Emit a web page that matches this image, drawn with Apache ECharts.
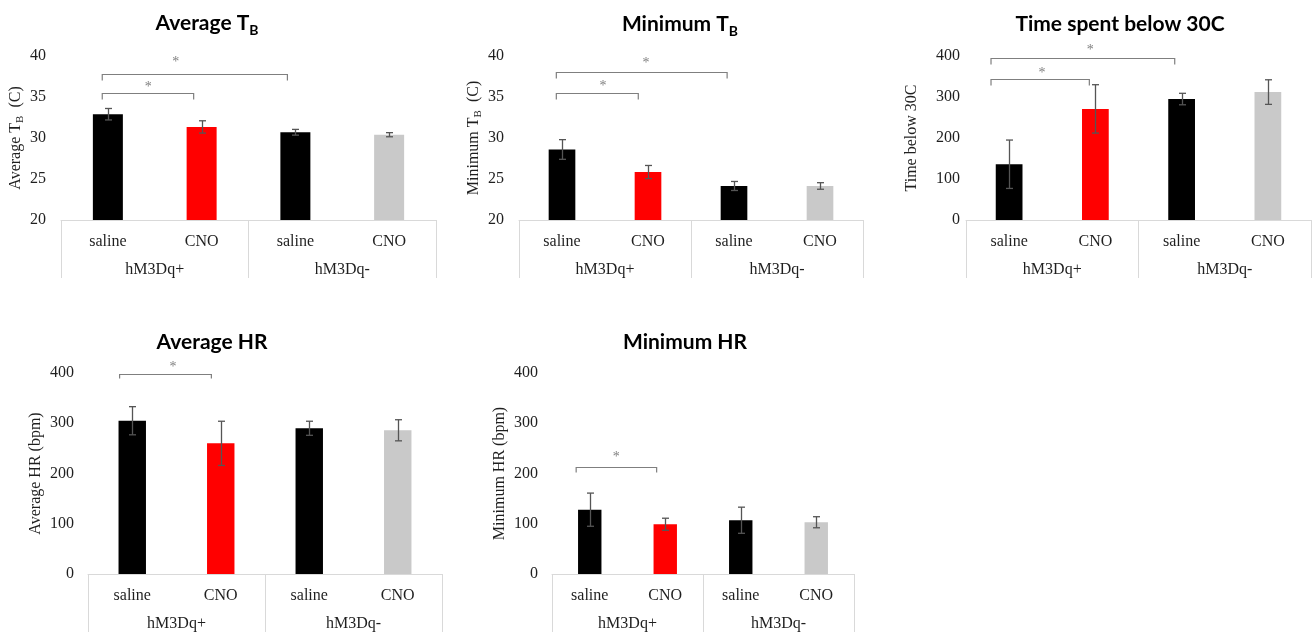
<!DOCTYPE html>
<html>
<head>
<meta charset="utf-8">
<script src="https://cdn.jsdelivr.net/npm/echarts@6/dist/echarts.min.js"></script>
<style>
html,body{margin:0;padding:0;background:#fff;}
#c{width:1312px;height:632px;}
</style>
</head>
<body>
<div id="c"></div>
<script>
// ---- data ----
const categories = ['saline', 'CNO', 'saline', 'CNO'];
const groups = ['hM3Dq+', 'hM3Dq-'];

const avgTbMean = [32.9, 31.35, 30.7, 30.4];
const avgTbErr  = [0.7, 0.75, 0.35, 0.25];
const minTbMean = [28.6, 25.85, 24.15, 24.15];
const minTbErr  = [1.2, 0.8, 0.55, 0.4];
const timeMean  = [136, 271, 295, 312];
const timeErr   = [59, 59, 14, 30];
const avgHrMean = [305, 260, 290, 286];
const avgHrErr  = [28, 44, 14, 21];
const minHrMean = [128, 99, 107, 103];
const minHrErr  = [33, 12, 26, 11];

// significance brackets: [xStart, xEnd, yLine, xStar, yStar] (category units / data units)
const avgTbBrackets = [[-0.06, 0.915, 35.5, 0.43, 36.5], [-0.06, 1.915, 37.8, 0.725, 39.6]];
const minTbBrackets = [[-0.066, 0.887, 35.5, 0.477, 36.7], [-0.066, 1.92, 38.1, 0.977, 39.5]];
const timeBrackets  = [[-0.21, 0.93, 344, 0.38, 366], [-0.21, 1.92, 396, 0.94, 422]];
const avgHrBrackets = [[-0.143, 0.894, 398.6, 0.46, 418]];
const minHrBrackets = [[-0.18, 0.886, 212.8, 0.35, 239]];

const barColors = ['#000000', '#ff0000', '#000000', '#c9c9c9'];

// ---- layout ----
const SERIF = 'Liberation Serif';
const panels = [
  {grid:{left:61, top:56, width:375, height:164}, min:20, max:40, interval:5, mean:avgTbMean, err:avgTbErr, br:avgTbBrackets,
   yName:'{m|Average T}{s|B}{m|  (C)}', nameGap:33, labelMargin:15, barWidth:'32%', title:'{t|Average T}{ts|B}', tx:207, ty:9, tick:6, box:58},
  {grid:{left:519, top:56, width:344, height:164}, min:20, max:40, interval:5, mean:minTbMean, err:minTbErr, br:minTbBrackets,
   yName:'{m|Minimum T}{s|B}{m|  (C)}', nameGap:33, labelMargin:15, barWidth:'31%', title:'{t|Minimum T}{ts|B}', tx:680, ty:10, tick:6, box:58},
  {grid:{left:966, top:56, width:345, height:164}, min:0, max:400, interval:100, mean:timeMean, err:timeErr, br:timeBrackets,
   yName:'{m|Time below 30C}', nameGap:44, labelMargin:6, barWidth:'31%', title:'{t|Time spent below 30C}', tx:1120, ty:10, tick:6, box:58},
  {grid:{left:88, top:373, width:354, height:202}, min:0, max:400, interval:100, mean:avgHrMean, err:avgHrErr, br:avgHrBrackets,
   yName:'{m|Average HR (bpm)}', nameGap:42, labelMargin:14, barWidth:'31%', title:'{t|Average HR}', tx:212, ty:328, tick:4, box:60},
  {grid:{left:552, top:373, width:302, height:202}, min:0, max:400, interval:100, mean:minHrMean, err:minHrErr, br:minHrBrackets,
   yName:'{m|Minimum HR (bpm)}', nameGap:42, labelMargin:14, barWidth:'31%', title:'{t|Minimum HR}', tx:685, ty:328, tick:5, box:60}
];

const grids = [], xAxes = [], yAxes = [], series = [], titles = [];
const boxColor = '#d9d9d9';
const textColor = '#1f1f1f';

panels.forEach((p, gi) => {
  grids.push(Object.assign({containLabel:false}, p.grid));
  titles.push({
    text: p.title, left: p.tx, top: p.ty, textAlign: 'center', padding: 0,
    textStyle: {
      rich: {
        t: {fontFamily:'Lato', fontWeight:'bold', fontSize:21, color:'#000', lineHeight:28},
        ts: {fontFamily:'Lato', fontWeight:'bold', fontSize:14, color:'#000', lineHeight:14, verticalAlign:'bottom'}
      }
    }
  });
  // inner categories
  xAxes.push({
    type:'category', gridIndex: gi, data: categories, position:'bottom',
    axisLine:{show:true, lineStyle:{color:boxColor, width:1}},
    axisTick:{show:false},
    axisLabel:{interval:0, margin:14, fontFamily:SERIF, fontSize:16, lineHeight:16, color:textColor}
  });
  // outer groups
  xAxes.push({
    type:'category', gridIndex: gi, data: groups, position:'bottom',
    axisLine:{show:false},
    axisTick:{show:true, interval:0, length:p.box, lineStyle:{color:boxColor, width:1}},
    axisLabel:{interval:0, margin:42, fontFamily:SERIF, fontSize:16, lineHeight:16, color:textColor}
  });
  yAxes.push({
    type:'value', gridIndex: gi, min:p.min, max:p.max, interval:p.interval,
    axisLine:{show:false}, axisTick:{show:false}, splitLine:{show:false},
    axisLabel:{margin:p.labelMargin, fontFamily:SERIF, fontSize:16, color:textColor},
    name: p.yName, nameLocation:'middle', nameRotate:90, nameGap:p.nameGap,
    nameTextStyle:{
      rich:{
        m:{fontFamily:SERIF, fontSize:16, color:textColor, lineHeight:20},
        s:{fontFamily:SERIF, fontSize:11, color:textColor, lineHeight:11, verticalAlign:'bottom'}
      }
    }
  });
  const xi = gi * 2;
  series.push({
    type:'bar', xAxisIndex: xi, yAxisIndex: gi, barWidth: p.barWidth, z:2,
    data: p.mean.map((v, i) => ({value: v, itemStyle:{color: barColors[i]}})),
    silent:true, animation:false
  });
  series.push({
    type:'custom', xAxisIndex: xi, yAxisIndex: gi, animation:false, silent:true, z:10,
    data: p.mean.map((v, i) => [i, v - p.err[i], v + p.err[i]]),
    encode:{x:0, y:[1,2]},
    renderItem: function (params, api) {
      const lo = api.coord([api.value(0), api.value(1)]);
      const hi = api.coord([api.value(0), api.value(2)]);
      const x = Math.round(lo[0]) + 0.5;
      const w = 3.5;
      const st = {stroke:'#555555', lineWidth:1.3};
      return {type:'group', children:[
        {type:'line', shape:{x1:x, y1:hi[1], x2:x, y2:lo[1]}, style:st},
        {type:'line', shape:{x1:x - w, y1:hi[1], x2:x + w, y2:hi[1]}, style:st},
        {type:'line', shape:{x1:x - w, y1:lo[1], x2:x + w, y2:lo[1]}, style:st}
      ]};
    }
  });
  const tick = p.tick;
  series.push({
    type:'custom', xAxisIndex: xi, yAxisIndex: gi, animation:false, silent:true, clip:false, z:10,
    data: p.br.map(b => [0, b[2], b[0], b[1], b[3], b[4]]),
    encode:{x:0, y:1},
    renderItem: function (params, api) {
      const base = api.coord([0, api.value(1)]);
      const bw = api.size([1, 0])[0];
      const x1 = base[0] + api.value(2) * bw;
      const x2 = base[0] + api.value(3) * bw;
      const y = Math.round(base[1]) + 0.5;
      const sx = base[0] + api.value(4) * bw;
      const sy = api.coord([0, api.value(5)])[1];
      return {type:'group', children:[
        {type:'polyline', shape:{points:[[x1, y + tick], [x1, y], [x2, y], [x2, y + tick]]},
         style:{stroke:'#7f7f7f', lineWidth:1.2, fill:null}},
        {type:'text', style:{text:'*', x:sx, y:sy + 3, align:'center', verticalAlign:'middle',
         font:'14px "Liberation Serif"', fill:'#7f7f7f'}}
      ]};
    }
  });
});

const chart = echarts.init(document.getElementById('c'), null, {renderer:'canvas'});
chart.setOption({
  animation:false,
  backgroundColor:'#ffffff',
  title: titles,
  grid: grids,
  xAxis: xAxes,
  yAxis: yAxes,
  series: series
});
</script>
</body>
</html>
